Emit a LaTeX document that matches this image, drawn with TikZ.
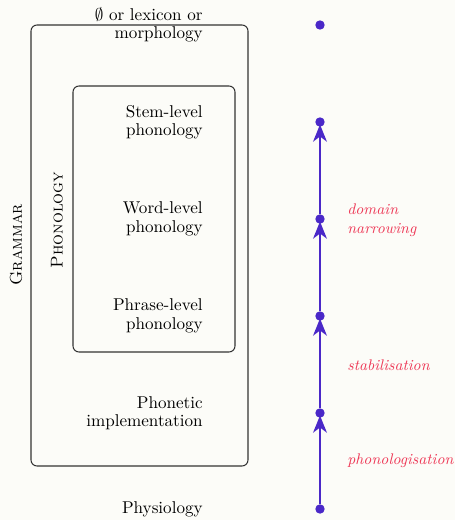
\documentclass[tikz,border=0pt]{standalone}
\usepackage{tikz}
\usepackage{amssymb}
\usetikzlibrary{arrows.meta}
\definecolor{arrowblue}{RGB}{74,40,200}
\definecolor{labelred}{RGB}{238,58,88}
\definecolor{paper}{RGB}{252,252,248}

\begin{document}
\begin{tikzpicture}[x=0.585pt,y=-0.585pt,
    level/.style={anchor=east,align=right,inner sep=0pt,font=\fontsize{10}{10.8}\selectfont},
    dot/.style={circle,fill=arrowblue,inner sep=0pt,minimum size=5.5pt},
    change/.style={-{Stealth[length=10pt,width=8pt,inset=3pt]},arrowblue,line width=1.5pt,shorten >=-1.5pt},
    process/.style={anchor=west,align=left,inner sep=0pt,text=labelred,font=\fontsize{9}{10.8}\selectfont\itshape},
    frame/.style={draw=black!80,line width=0.6pt,rounded corners=3.5pt}]
      \fill[paper] (0,0) rectangle (455,520);%背景
      \draw[frame] (31,25) rectangle (248,466);%grammar
      \draw[frame] (73,86) rectangle (235,352);%phonology
      \node[rotate=90,font=\fontsize{10}{10.8}\selectfont\scshape] (grammar) at (16,245) {Grammar};
      \node[rotate=90,font=\fontsize{10}{10.8}\selectfont\scshape] (phonology) at (57,220) {Phonology};
      % levels
      \node[level] (lex) at (203,25) {$\emptyset$ or lexicon or\\morphology};
      \node[level] (stem) at (203,122) {Stem-level\\phonology};
      \node[level] (word) at (203,219) {Word-level\\phonology};
      \node[level] (phrase) at (203,316) {Phrase-level\\phonology};
      \node[level] (phonetic) at (203,413) {Phonetic\\implementation};
      \node[level] (physio) at (203,509) {Physiology};
      % dots
      \node[dot] (dlex) at (320,25) {};
      \node[dot] (dstem) at (320,122) {};
      \node[dot] (dword) at (320,219) {};
      \node[dot] (dphrase) at (320,316) {};
      \node[dot] (dphonetic) at (320,413) {};
      \node[dot] (dphysio) at (320,509) {};
      \draw[change] (dphysio) -- (dphonetic);
      \draw[change] (dphonetic) -- (dphrase);
      \draw[change] (dphrase) -- (dword);
      \draw[change] (dword) -- (dstem);
      % processes
      \node[process] (narrow) at (347,220) {domain\\narrowing};
      \node[process] (stab) at (347,365) {stabilisation};
      \node[process] (phonol) at (347,461) {phonologisation};
\end{tikzpicture}
\end{document}
